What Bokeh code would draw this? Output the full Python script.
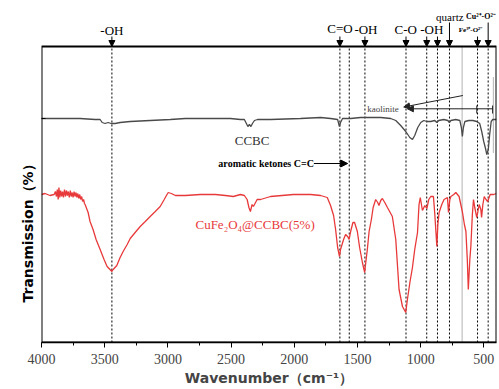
from bokeh.plotting import figure
from bokeh.models import (Range1d, Label, Arrow, NormalHead, SingleIntervalTicker,
                          FixedTicker, BoxAnnotation, Title)
from bokeh.embed import file_html
from bokeh.resources import INLINE

# ---------------- data ----------------
ccbc_wn = [4000, 3853, 3695, 3576, 3536, 3520, 3497, 3473, 3449, 3417, 3378, 3298, 3140, 2981,
           2862, 2743, 2624, 2506, 2426, 2395, 2379, 2367, 2355, 2343, 2331, 2315, 2291, 2188,
           1951, 1792, 1713, 1657, 1643, 1634, 1618, 1554, 1475, 1316, 1237, 1197, 1158, 1118,
           1086, 1065, 1047, 1023, 999, 975, 951, 920, 888, 872, 857, 817, 785, 773, 761, 722,
           690, 678, 670, 662, 650, 619, 587, 556, 533, 517, 501, 485, 477, 465, 454, 442, 430,
           414, 400]
ccbc_t = [224, 224, 224, 223, 223, 220, 219, 220, 219, 219, 220, 221, 222, 223,
          224, 224, 224, 224, 223, 223, 219, 216, 218, 216, 219, 222, 223, 223,
          224, 225, 224, 223, 216, 220, 224, 224, 225, 225, 224, 222, 217, 211,
          205, 203, 207, 215, 220, 222, 221, 221, 222, 220, 222, 223, 222, 220, 222, 223,
          222, 215, 206, 215, 221, 222, 222, 221, 219, 211, 201, 193, 188, 193, 208, 221, 223,
          223, 223]

cf_wn = [4000, 3972, 3933, 3900, 3890, 3882, 3875, 3868, 3862, 3855, 3848, 3840, 3833, 3826,
         3818, 3810, 3803, 3795, 3788, 3780, 3772, 3765, 3757, 3750, 3742, 3735, 3727, 3720,
         3712, 3705, 3697, 3690, 3682, 3675, 3667, 3660, 3655, 3631, 3616, 3592, 3568, 3536,
         3505, 3481, 3443, 3433, 3404, 3378, 3354, 3322, 3298, 3259, 3219, 3179, 3140, 3100,
         3061, 3029, 3007, 2997, 2973, 2941, 2862, 2743, 2624, 2545, 2482, 2426, 2395, 2373,
         2359, 2347, 2334, 2323, 2294, 2267, 2188, 2006, 1871, 1792, 1739, 1713, 1689, 1673,
         1657, 1642, 1634, 1610, 1594, 1578, 1566, 1554, 1536, 1523, 1501, 1483, 1461, 1443,
         1439, 1422, 1408, 1390, 1376, 1356, 1340, 1330, 1316, 1303, 1284, 1263, 1224, 1197,
         1171, 1144, 1118, 1105, 1084, 1065, 1047, 1025, 1013, 1003, 986, 967, 951, 936, 920,
         899, 888, 872, 864, 854, 833, 815, 788, 780, 769, 761, 738, 722, 696, 669, 654, 642,
         631, 623, 611, 603, 591, 582, 572, 556, 537, 524, 518, 508, 497, 483, 470, 450, 423, 400]
cf_t = [148, 149, 147, 148, 151, 146, 153, 143, 155, 145, 152, 146, 151, 145,
        153, 146, 152, 147, 151, 145, 152, 146, 150, 145, 151, 146, 150, 145,
        149, 144, 148, 143, 146, 141, 143, 139, 138, 130, 121, 113, 103, 93,
        83, 76, 71, 73, 77, 85, 91, 98, 104, 110, 116, 121, 126, 131,
        136, 143, 148, 150, 149, 147, 147, 148, 148, 147, 146, 148, 147, 143,
        135, 131, 138, 136, 143, 143, 146, 148, 148, 147, 145, 137, 127, 113,
        95, 86, 93, 103, 108, 106, 103, 111, 120, 120, 111, 95, 80, 70,
        75, 93, 111, 123, 135, 143, 140, 137, 142, 144, 140, 135, 126, 103,
        53, 36, 30, 43, 61, 75, 93, 110, 138, 145, 132, 137, 134, 143, 146,
        146, 128, 96, 118, 130, 138, 143, 145, 130, 143, 146, 148, 150, 146, 130, 118, 111,
        83, 53, 83, 96, 128, 143, 135, 125, 138, 133, 125, 138, 146, 143, 141, 148, 148, 149]

# assignment lines (cm-1)
band_lines = [3443, 1639, 1565, 1441, 1116, 952, 867, 772, 550, 466]
kaolinite_line = 672
x_ticks_step = 500

X_LEFT, X_RIGHT = 4000, 400
BOX_TOP = 296          # top edge of the drawn plot box
Y_TOP = 342            # extra room above the box for the band labels

p = figure(width=499, height=389, output_backend="svg", toolbar_location=None,
           x_range=Range1d(X_LEFT, X_RIGHT), y_range=Range1d(0, Y_TOP),
           min_border_left=41, min_border_right=3, min_border_top=0, min_border_bottom=47)
p.background_fill_color = "white"
p.border_fill_color = "white"
p.outline_line_color = None
p.xgrid.visible = False
p.ygrid.visible = False

# x axis
p.xaxis.ticker = SingleIntervalTicker(interval=x_ticks_step, num_minor_ticks=2)
p.xaxis.major_tick_in = 0
p.xaxis.major_tick_out = 5
p.xaxis.minor_tick_in = 0
p.xaxis.minor_tick_out = 3
p.xaxis.axis_line_width = 1.5
p.xaxis.major_label_text_font = "Liberation Serif"
p.xaxis.major_label_text_font_size = "14px"
p.xaxis.major_label_text_color = "#444444"
p.xaxis.major_label_standoff = 6
p.xaxis.axis_label = "Wavenumber（cm⁻¹）"
p.xaxis.axis_label_text_font = "DejaVu Sans"
p.xaxis.axis_label_text_font_style = "bold"
p.xaxis.axis_label_text_font_size = "14px"
p.xaxis.axis_label_standoff = 3

# y axis (line drawn by the box below); label placed as a side title
p.yaxis.ticker = FixedTicker(ticks=[224], minor_ticks=[])
p.yaxis.major_tick_in = 4
p.yaxis.major_tick_out = 0
p.yaxis.major_label_overrides = {224: ""}
p.yaxis.axis_line_color = None
p.add_layout(Title(text="Transmission（%）", align="left", offset=40,
                   text_font="DejaVu Sans", text_font_style="bold",
                   text_font_size="14px", text_color="black", standoff=12), "left")

# plot box
p.add_layout(BoxAnnotation(left=X_LEFT, right=X_RIGHT, bottom=0, top=BOX_TOP,
                           fill_alpha=0, line_color="black", line_width=2, line_alpha=1))

# vertical assignment lines
p.segment(x0=band_lines, y0=[0] * len(band_lines), x1=band_lines,
          y1=[BOX_TOP] * len(band_lines), line_color="black", line_width=1, line_dash="2 2")
p.segment(x0=[kaolinite_line], y0=[0], x1=[kaolinite_line], y1=[BOX_TOP],
          line_color="#666666", line_width=1, line_dash="1 1")
p.segment(x0=[425], y0=[190], x1=[425], y1=[265], line_color="#666666",
          line_width=1, line_dash="1 1")

# spectra
p.line(ccbc_wn, ccbc_t, line_color="#4a4a4a", line_width=1.3)
p.line(cf_wn, cf_t, line_color="#e8393a", line_width=1.3)

SERIF = "Liberation Serif"

def label(x, y, text, size="13px", color="black", style="normal", align="center"):
    p.add_layout(Label(x=x, y=y, text=text, text_font=SERIF, text_font_size=size,
                       text_color=color, text_font_style=style, text_align=align,
                       text_baseline="middle"))

def arrow(x0, y0, x1, y1, size=6, color="black"):
    p.add_layout(Arrow(x_start=x0, y_start=y0, x_end=x1, y_end=y1, line_color=color,
                       line_width=1,
                       end=NormalHead(size=size, fill_color=color, line_color=color)))

# top annotations
label(3443, 312, "-OH")
arrow(3443, 306, 3443, BOX_TOP)
label(1639, 314, "C=O")
arrow(1639, 306, 1639, BOX_TOP)
label(1433, 313, "-OH")
arrow(1441, 306, 1441, BOX_TOP)
label(1118, 313, "C-O")
arrow(1116, 306, 1116, BOX_TOP)
label(912, 313, "-OH")
arrow(952, 306, 952, BOX_TOP)
arrow(867, 306, 867, BOX_TOP)
label(769, 326, "quartz", size="11px")
arrow(772, 320, 772, BOX_TOP)
label(698, 313, "Fe³⁺-O²⁻", size="7px", style="bold", align="left")
arrow(550, 306, 550, BOX_TOP)
label(642, 326, "Cu²⁺-O²⁻", size="8px", style="bold", align="left")
arrow(466, 320, 466, BOX_TOP)

# in-plot annotations
label(2334, 202, "CCBC", size="13px", color="#333333")
label(1845, 179, "aromatic ketones C=C", size="10px", style="bold", align="right")
arrow(1845, 179, 1578, 179, size=7)
label(2310, 118, "CuFe₂O₄@CCBC(5%)", size="13px", color="#e8393a")

label(1299, 234, "kaolinite", size="9px", color="#444444")
arrow(666, 247, 1134, 235.5, size=6, color="#222222")
arrow(431, 233.7, 1105, 233.7, size=6, color="#222222")
p.segment(x0=[556, 431], y0=[229, 229], x1=[556, 431], y1=[237, 237],
          line_color="#222222", line_width=1)

open("out.html", "w").write(file_html(p, INLINE))
